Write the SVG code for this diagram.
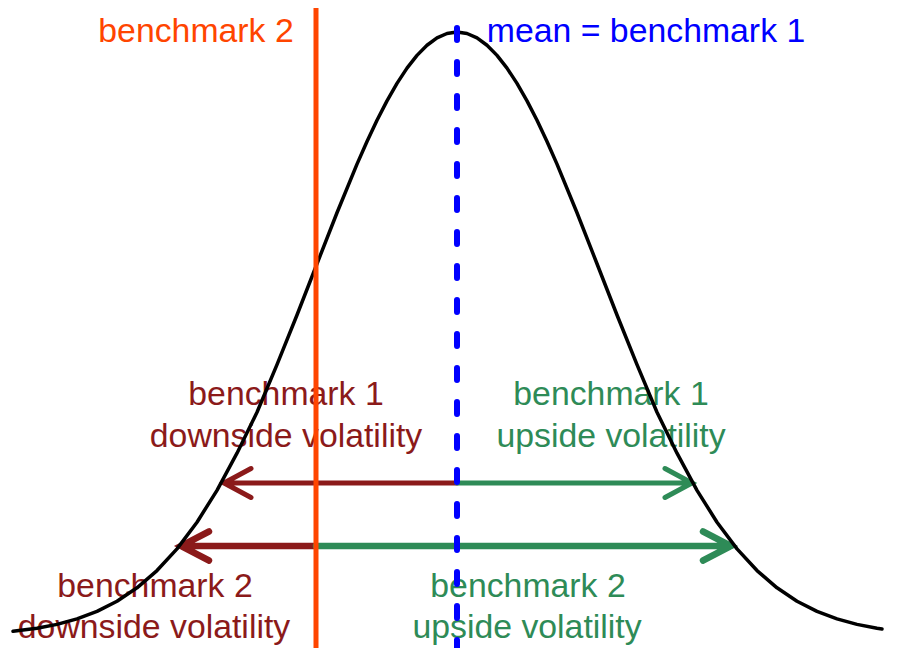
<svg xmlns="http://www.w3.org/2000/svg" width="904" height="648" viewBox="0 0 904 648">
<style>
text{font-family:"Liberation Sans",Arial,sans-serif;font-size:33.8px;text-anchor:middle}
.red{fill:#8B1A1A}.grn{fill:#2E8B57}
.ar{fill:none;stroke-linecap:round;stroke-linejoin:miter}
.r{stroke:#8B1A1A}.g{stroke:#2E8B57}
</style>
<rect width="904" height="648" fill="#fff"/>
<g id="labels">
<text x="196" y="42" fill="#FF4500">benchmark 2</text>
<text x="646" y="42" fill="#0000FF">mean = benchmark 1</text>
<g id="b1down" class="red"><text x="286" y="405">benchmark 1</text><text x="286" y="447">downside volatility</text></g>
<g id="b1up" class="grn"><text x="611" y="405">benchmark 1</text><text x="611" y="447">upside volatility</text></g>
<g id="b2down" class="red"><text x="155" y="597">benchmark 2</text><text x="154" y="638">downside volatility</text></g>
<g id="b2up" class="grn"><text x="528" y="597">benchmark 2</text><text x="527" y="638">upside volatility</text></g>
</g>
<g id="connectors">
<g stroke-width="5">
<path class="ar r" d="M457 483H224M251 468.5L224 483L251 497.5"/>
<path class="ar g" d="M457 483H692M665 468.5L692 483L665 497.5"/>
</g>
<g stroke-width="6.5">
<path class="ar r" d="M316 546H181M209 531.5L181 546L209 560.5"/>
<path class="ar g" d="M316 546H731M703 531.5L731 546L703 560.5"/>
</g>
</g>
<g id="curve">
<polyline fill="none" stroke="#000" stroke-width="3.5" stroke-linejoin="round" stroke-linecap="round" points="13,631.35 37,628.25 57,624.38 77,618.91 97,611.38 117,601.21 137,587.8 157,570.55 177,548.84 197,522.21 217,490.32 237,453.18 257,412.25 277,364.6 297,314.99 317,263.74 337,212.74 357,164.15 367,141.49 377,120.29 387,100.83 397,83.38 407,68.15 417,55.39 427,45.28 437,37.94 447,33.49 457,32 467,33.49 477,37.94 487,45.28 497,55.39 507,68.15 517,83.38 527,100.83 537,120.29 547,141.49 557,164.15 577,212.74 597,263.74 617,314.99 637,364.6 657,412.25 677,453.18 697,490.32 717,522.21 737,548.84 757,570.55 777,587.8 797,601.21 817,611.38 837,618.91 857,624.38 877,628.25 882,629.02"/>
</g>
<g id="benchmark2-line"><line x1="316" y1="8" x2="316" y2="648" stroke="#FF4500" stroke-width="5"/></g>
<g id="mean-line"><line x1="457" y1="28" x2="457" y2="648" stroke="#0000FF" stroke-width="6" stroke-dasharray="12 22" stroke-linecap="round"/></g>
</svg>
